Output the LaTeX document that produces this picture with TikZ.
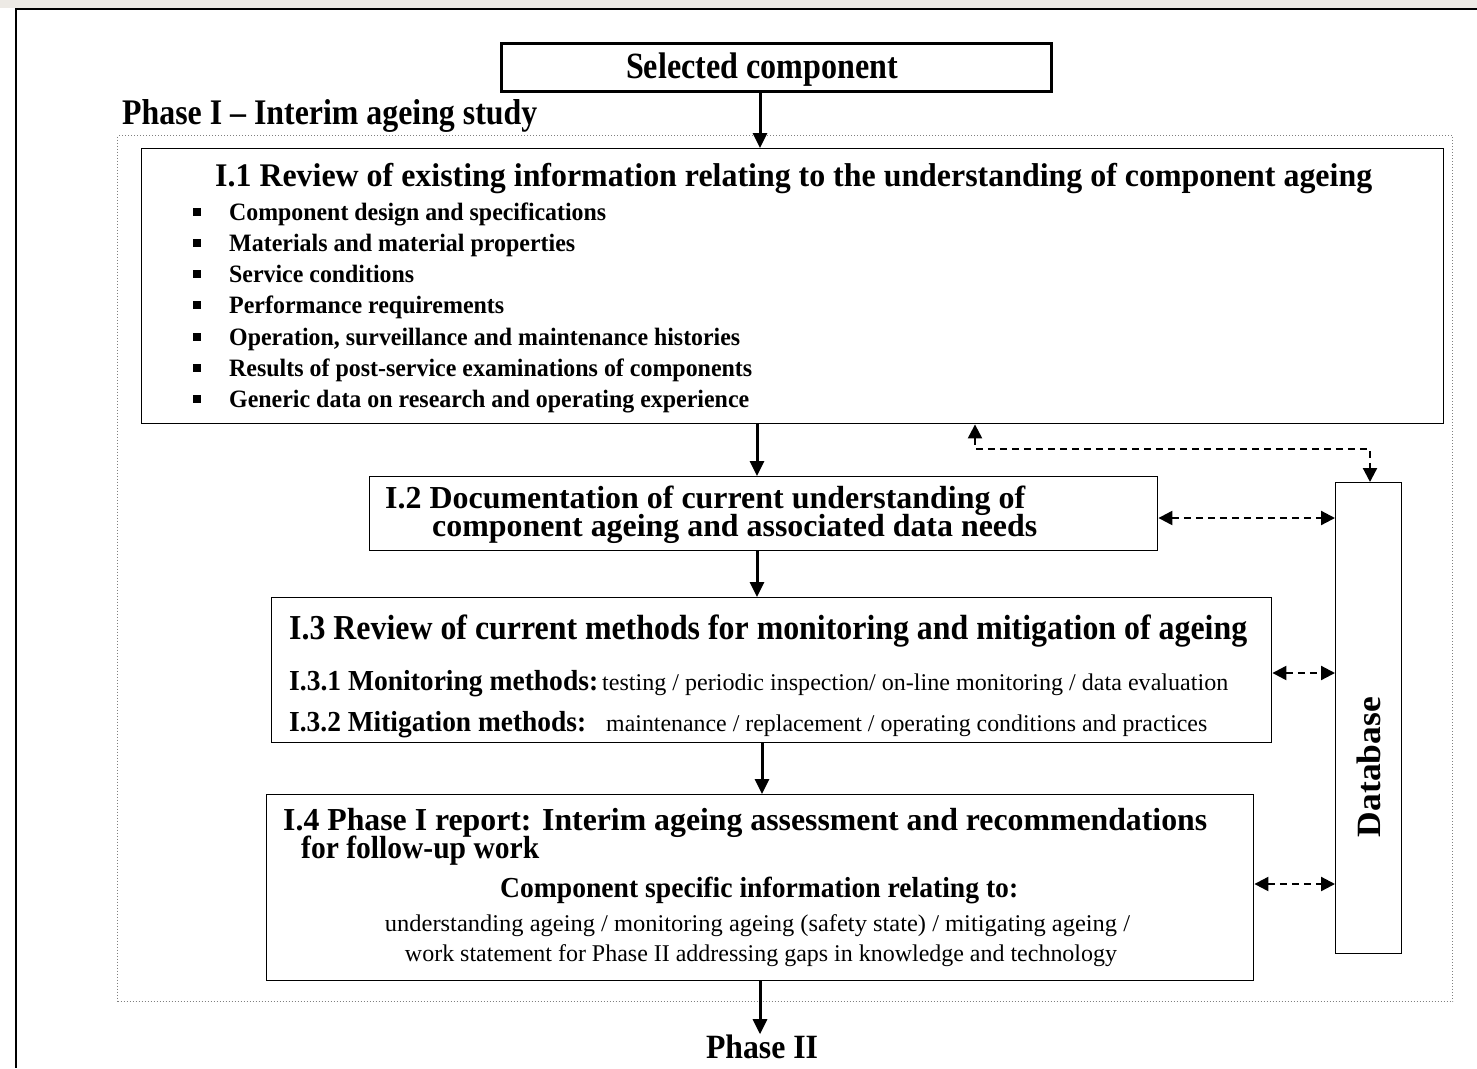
\documentclass[tikz,border=0pt]{standalone}
\usepackage{fontspec}
\setmainfont{Liberation Serif}
\usetikzlibrary{arrows.meta}
\definecolor{strip}{HTML}{EDEAE5}
\newcommand{\fw}[2]{\resizebox{#1pt}{\height}{#2}}
\newcommand{\fsz}[1]{\fontsize{#1}{#1}\selectfont}
\begin{document}
\begin{tikzpicture}[x=1pt,y=-1pt,
  box/.style={draw,line width=1.4pt,inner sep=0,anchor=north west},
  txt/.style={inner sep=0,anchor=base west},
  txtc/.style={inner sep=0,anchor=base},
  flow/.style={line width=3pt,-{Triangle[length=15pt,width=14pt]}},
  dlink/.style={line width=2.2pt,dash pattern=on 7pt off 5pt,{Triangle[length=14pt,width=14pt]}-{Triangle[length=14pt,width=14pt]}},
  bul/.style={fill=black,inner sep=0,minimum size=7.5pt}]
\useasboundingbox (0,0) rectangle (1477,1068);
\fill[white] (0,0) rectangle (1477,1068);
\fill[strip] (0,0) rectangle (1477,8);
\draw[line width=1.5pt] (1477,9) -- (16,9) -- (16,1068);
% outer dotted phase frame
\node[draw=gray,dotted,line width=1pt,inner sep=0,anchor=north west,minimum width=1335pt,minimum height=866pt] (phase) at (117,135) {};
% boxes
\node[box,line width=3pt,minimum width=550pt,minimum height=48pt] (sel) at (500,42) {};
\node[box,minimum width=1302pt,minimum height=275pt] (i1) at (141,148) {};
\node[box,minimum width=788pt,minimum height=74pt] (i2) at (369,476) {};
\node[box,minimum width=1000pt,minimum height=145pt] (i3) at (271,597) {};
\node[box,minimum width=987pt,minimum height=186pt] (i4) at (266,794) {};
\node[box,minimum width=66pt,minimum height=471pt] (db) at (1335,482) {};
% texts
\node[txtc] (selt) at (762,78) {\fsz{37}\bfseries\fw{272}{Selected component}};
\node[txt] (p1) at (122,124) {\fsz{36}\bfseries\fw{415}{Phase I – Interim ageing study}};
\node[txt] (i1t) at (215,186) {\fsz{33}\bfseries\fw{1157}{I.1 Review of existing information relating to the understanding of component ageing}};
\foreach \yy/\ww/\tt [count=\k] in {220/377/{Component design and specifications},
  251/346/{Materials and material properties},
  282/185/{Service conditions},
  313/275/{Performance requirements},
  345/511/{Operation, surveillance and maintenance histories},
  376/523/{Results of post-service examinations of components},
  407/520/{Generic data on research and operating experience}}{
  \node[bul] (b\k) at (197,\yy-8) {};
  \node[txt] (bt\k) at (229,\yy) {\fsz{25}\bfseries\fw{\ww}{\tt}};
}
\node[txt] (i2a) at (385,508) {\fsz{32}\bfseries\fw{640}{I.2 Documentation of current understanding of}};
\node[txt] (i2b) at (432,536) {\fsz{32}\bfseries\fw{605}{component ageing and associated data needs}};
\node[txt] (i3t) at (289,639) {\fsz{35}\bfseries\fw{958}{I.3 Review of current methods for monitoring and mitigation of ageing}};
\node[txt] (i31) at (289,690) {\fsz{29}\bfseries\fw{309}{I.3.1 Monitoring methods:}};
\node[txt] (i31b) at (602,690) {\fsz{24}\fw{626}{testing / periodic inspection/ on-line monitoring / data evaluation}};
\node[txt] (i32) at (289,731) {\fsz{29}\bfseries\fw{297}{I.3.2 Mitigation methods:}};
\node[txt] (i32b) at (606,731) {\fsz{24}\fw{601}{maintenance / replacement / operating conditions and practices}};
\node[txt] (i4a) at (283,830) {\fsz{32}\bfseries\fw{924}{I.4 Phase I report: Interim ageing assessment and recommendations}};
\node[txt] (i4b) at (301,858) {\fsz{32}\bfseries\fw{238}{for follow-up work}};
\node[txt] (i4c) at (500,897) {\fsz{29}\bfseries\fw{518}{Component specific information relating to:}};
\node[txtc] (i4d) at (757.5,931) {\fsz{24}\fw{745}{understanding ageing / monitoring ageing (safety state) / mitigating ageing /}};
\node[txtc] (i4e) at (761,961) {\fsz{24}\fw{712}{work statement for Phase II addressing gaps in knowledge and technology}};
\node[inner sep=0,rotate=90] (dbt) at (1369,767) {\fsz{34}\bfseries\fw{140}{Database}};
\node[txtc] (p2) at (762,1058) {\fsz{34}\bfseries\fw{112}{Phase II}};
% solid flow arrows
\draw[flow] (sel.south -| 760,0) -- (i1.north -| 760,0);
\draw[flow] (i1.south -| 757,0) -- (i2.north -| 757,0);
\draw[flow] (i2.south -| 757,0) -- (i3.north -| 757,0);
\draw[flow] (i3.south -| 762,0) -- (i4.north -| 762,0);
\draw[flow] (i4.south -| 760,0) -- (p2.north -| 760,0);
% dashed links to database
\draw[dlink] (i1.south -| 975,0) -- (975,449) -- (1370,449) -- (db.north -| 1370,0);
\draw[dlink] (i2.east |- 0,518) -- (db.west |- 0,518);
\draw[dlink] (i3.east |- 0,673) -- (db.west |- 0,673);
\draw[dlink] (i4.east |- 0,884) -- (db.west |- 0,884);
\end{tikzpicture}
\end{document}
